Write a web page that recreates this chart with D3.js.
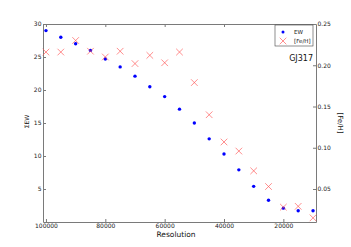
<!DOCTYPE html>
<html>
<head>
<meta charset="utf-8">
<script src="https://cdn.jsdelivr.net/npm/d3@7"></script>
<style>
  body { margin: 0; background: #fff; }
  text { font-family: "DejaVu Sans", sans-serif; }
</style>
</head>
<body>
<div id="chart"></div>
<script>
// data
const resolution = [100000, 95000, 90000, 85000, 80000, 75000, 70000, 65000, 60000, 55000,
                    50000, 45000, 40000, 35000, 30000, 25000, 20000, 15000, 10000];
const ew = [29.0, 28.0, 27.0, 26.0, 24.7, 23.5, 22.1, 20.5, 19.0, 17.1,
            15.0, 12.6, 10.3, 7.9, 5.4, 3.3, 2.1, 1.7, 1.7];
const feh = [0.216, 0.216, 0.230, 0.217, 0.210, 0.217, 0.202, 0.212, 0.203, 0.216,
             0.179, 0.140, 0.107, 0.096, 0.072, 0.053, 0.028, 0.029, 0.015];
const xTicks = [100000, 80000, 60000, 40000, 20000];
const ewTicks = [5, 10, 15, 20, 25, 30];
const fehTicks = [0.05, 0.10, 0.15, 0.20, 0.25];

const width = 351, height = 247;
const margin = {left: 43, right: 35, top: 24, bottom: 25};
const frame = "#7a7a7a";

const svg = d3.select("#chart").append("svg")
    .attr("width", width)
    .attr("height", height);

const x = d3.scaleLinear().domain([101000, 9000]).range([margin.left, width - margin.right]);
const yL = d3.scaleLinear().domain([0, 30]).range([height - margin.bottom, margin.top]);
const yR = d3.scaleLinear().domain([0.01, 0.25]).range([height - margin.bottom, margin.top]);

// axes (ticks pointing inward, like matplotlib classic)
function styleAxis(g) {
    g.select(".domain").attr("stroke", frame);
    g.selectAll(".tick line").attr("stroke", frame);
    g.selectAll(".tick text").attr("fill", "#222").style("font-size", "6px");
}

svg.append("g")
    .attr("transform", `translate(0,${height - margin.bottom})`)
    .call(d3.axisBottom(x).tickValues(xTicks).tickFormat(d3.format("d")).tickSizeInner(-3).tickSizeOuter(0).tickPadding(1.5))
    .call(styleAxis);

svg.append("g")
    .attr("transform", `translate(0,${margin.top})`)
    .call(d3.axisTop(x).tickValues(xTicks).tickFormat("").tickSizeInner(-3).tickSizeOuter(0))
    .call(styleAxis);

svg.append("g")
    .attr("transform", `translate(${margin.left},0)`)
    .call(d3.axisLeft(yL).tickValues(ewTicks).tickSizeInner(-3).tickSizeOuter(0).tickPadding(1.5))
    .call(styleAxis);

svg.append("g")
    .attr("transform", `translate(${width - margin.right},0)`)
    .call(d3.axisRight(yR).tickValues(fehTicks).tickFormat(d3.format(".2f")).tickSizeInner(-3).tickSizeOuter(0).tickPadding(1.5))
    .call(styleAxis);

// axis labels
svg.append("text")
    .attr("x", 176)
    .attr("y", 237)
    .attr("text-anchor", "middle")
    .style("font-size", "7.5px")
    .attr("fill", "#111")
    .text("Resolution");

svg.append("text")
    .attr("transform", "translate(29,121.5) rotate(-90)")
    .attr("text-anchor", "middle")
    .style("font-size", "6px")
    .attr("fill", "#111")
    .text("ΣEW");

svg.append("text")
    .attr("transform", "translate(338,123) rotate(90)")
    .attr("text-anchor", "middle")
    .style("font-size", "7px")
    .attr("fill", "#111")
    .text("[Fe/H]");

// EW points
svg.append("g").selectAll("circle")
    .data(resolution)
    .join("circle")
    .attr("cx", d => x(d))
    .attr("cy", (d, i) => yL(ew[i]))
    .attr("r", 1.7)
    .attr("fill", "#0000ff");

// [Fe/H] crosses
const cs = 3.3;
svg.append("g").selectAll("path")
    .data(resolution)
    .join("path")
    .attr("transform", (d, i) => `translate(${x(d)},${yR(feh[i])})`)
    .attr("d", `M${-cs},${-cs}L${cs},${cs}M${-cs},${cs}L${cs},${-cs}`)
    .attr("stroke", "#ff4d4d")
    .attr("stroke-opacity", 0.8)
    .attr("stroke-width", 0.8)
    .attr("fill", "none");

// legend
const lg = svg.append("g").attr("transform", "translate(275,25)");
lg.append("rect")
    .attr("width", 38).attr("height", 21)
    .attr("fill", "#fff").attr("stroke", "#444").attr("stroke-width", 0.6);
lg.append("circle").attr("cx", 8).attr("cy", 7).attr("r", 1.5).attr("fill", "#0000ff");
lg.append("path")
    .attr("transform", "translate(8,16)")
    .attr("d", `M${-cs},${-cs}L${cs},${cs}M${-cs},${cs}L${cs},${-cs}`)
    .attr("stroke", "#ff4d4d").attr("stroke-opacity", 0.8).attr("stroke-width", 0.8);
lg.append("text").attr("x", 19).attr("y", 9).style("font-size", "5.5px").attr("fill", "#111").text("EW");
lg.append("text").attr("x", 19).attr("y", 18).style("font-size", "5.5px").attr("fill", "#111").text("[Fe/H]");

svg.append("text")
    .attr("x", 313)
    .attr("y", 61)
    .attr("text-anchor", "end")
    .style("font-size", "8px")
    .attr("fill", "#111")
    .text("GJ317");
</script>
</body>
</html>
